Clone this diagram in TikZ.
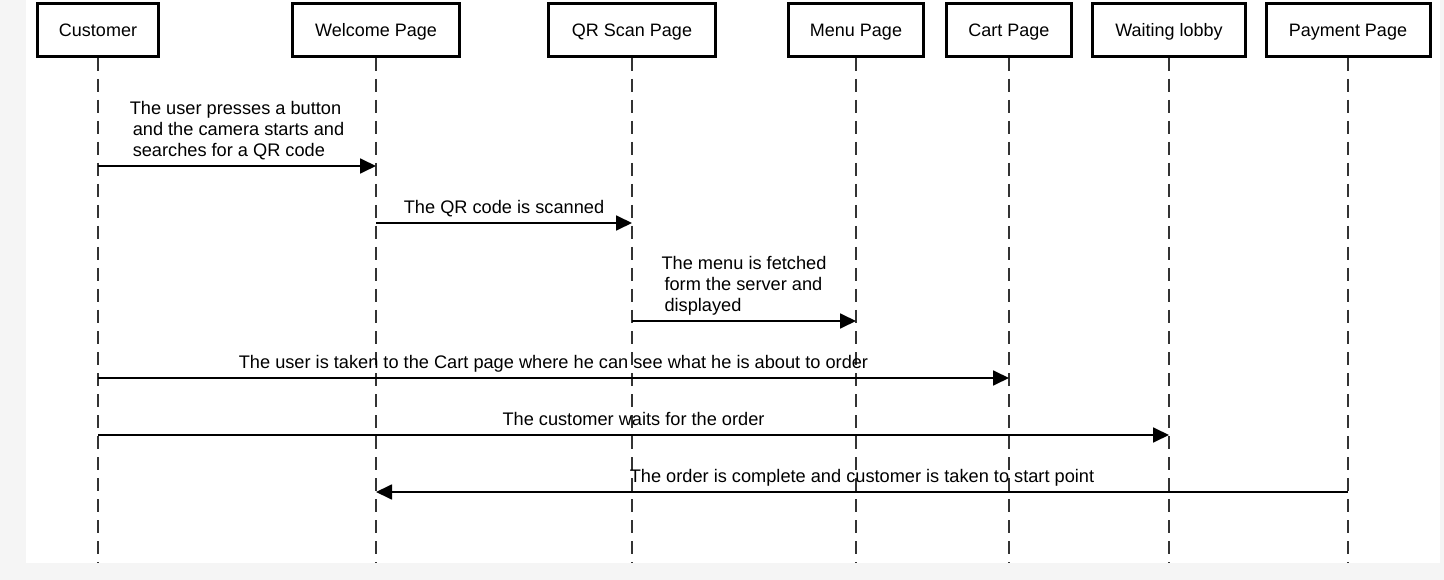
\documentclass[tikz,border=0pt]{standalone}
\usepackage{fontspec}
\setmainfont{Liberation Sans}
\usetikzlibrary{arrows.meta}
\definecolor{pagegray}{HTML}{F5F5F5}
\definecolor{linegray}{HTML}{333333}

\begin{document}
\begin{tikzpicture}[x=1pt, y=-1pt,
    actor/.style={draw, line width=3pt, fill=white, minimum height=53pt, inner sep=0pt,
      text height=13pt, text depth=0pt, font=\fontsize{18}{21}\selectfont},
    lifeline/.style={linegray, line width=1.8pt, dash pattern=on 13pt off 8pt},
    msg/.style={-{Triangle[length=16pt, width=15pt]}, line width=1.8pt, black},
    lbl/.style={midway, above=8.5pt, inner sep=0pt, text depth=0pt, text=black,
      font=\fontsize{18.2}{21}\selectfont}]
  \useasboundingbox (0,0) rectangle (1444,580);
  \fill[pagegray] (0,0) rectangle (1444,580);
  \fill[white] (26,0) rectangle (1440,563);
  \coordinate (bottom) at (0,563);

  % participants
  \node[actor, minimum width=121pt] (cust) at (98,30) {Customer};
  \node[actor, minimum width=167pt] (welc) at (376,30) {Welcome Page};
  \node[actor, minimum width=167pt] (qrscan) at (632,30) {QR Scan Page};
  \node[actor, minimum width=135pt] (menu) at (856,30) {Menu Page};
  \node[actor, minimum width=125pt] (cart) at (1009,30) {Cart Page};
  \node[actor, minimum width=153pt] (lobby) at (1169,30) {Waiting lobby};
  \node[actor, minimum width=164pt] (pay) at (1348,30) {Payment Page};

  % lifelines
  \draw[lifeline] (cust.south) -- (cust.south |- bottom);
  \draw[lifeline] (welc.south) -- (welc.south |- bottom);
  \draw[lifeline] (qrscan.south) -- (qrscan.south |- bottom);
  \draw[lifeline] (menu.south) -- (menu.south |- bottom);
  \draw[lifeline] (cart.south) -- (cart.south |- bottom);
  \draw[lifeline] (lobby.south) -- (lobby.south |- bottom);
  \draw[lifeline] (pay.south) -- (pay.south |- bottom);

  % messages
  \coordinate (r1) at (0,166);
  \coordinate (r2) at (0,223);
  \coordinate (r3) at (0,321);
  \coordinate (r4) at (0,378);
  \coordinate (r5) at (0,435);
  \coordinate (r6) at (0,492);
  \draw[msg] (cust |- r1) -- (welc |- r1)
    node[lbl, align=left] {The user presses a button\\
      \hspace*{3pt}and the camera starts and\\ \hspace*{3pt}searches for a QR code};
  \draw[msg] (welc |- r2) -- (qrscan |- r2)
    node[lbl] {The QR code is scanned};
  \draw[msg] (qrscan |- r3) -- (menu |- r3)
    node[lbl, align=left] {The menu is fetched\\
      \hspace*{3pt}form the server and\\ \hspace*{3pt}displayed};
  \draw[msg] (cust |- r4) -- (cart |- r4)
    node[lbl] {The user is taken to the Cart page where he can see what he is about to order};
  \draw[msg] (cust |- r5) -- (lobby |- r5)
    node[lbl] {The customer waits for the order};
  \draw[msg] (pay |- r6) -- (welc |- r6)
    node[lbl] {The order is complete and customer is taken to start point};
\end{tikzpicture}
\end{document}
